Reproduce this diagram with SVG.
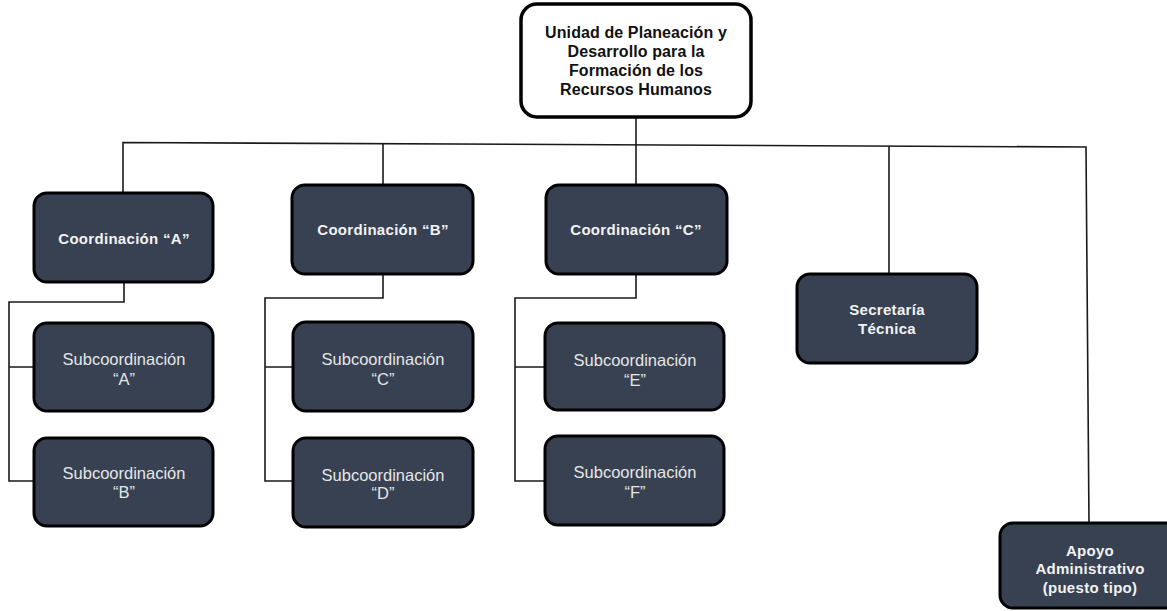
<svg xmlns="http://www.w3.org/2000/svg" width="1167" height="611" viewBox="0 0 1167 611">
<style>
.box{fill:#374151;stroke:#000;stroke-width:3}
.top{fill:#fff;stroke:#000;stroke-width:3.5}
.ln{fill:none;stroke:#1a1a1a;stroke-width:1.6}
.tb{font-family:"Liberation Sans",Arial,sans-serif;font-weight:bold;font-size:15px;fill:#f2f2f2;text-anchor:middle;letter-spacing:0.3px}
.tn{font-family:"Liberation Sans",Arial,sans-serif;font-size:16.5px;fill:#e6e6e6;text-anchor:middle}
.tt{font-family:"Liberation Sans",Arial,sans-serif;font-weight:bold;font-size:16px;fill:#111;text-anchor:middle;letter-spacing:0.1px}
</style>
<g id="connectors">
<path class="ln" d="M123,193 V142.5 L1086,147 L1089,523"/>
<path class="ln" d="M383,185 V143.6"/>
<path class="ln" d="M636,117 V185"/>
<path class="ln" d="M889,274 V146"/>
<path class="ln" d="M124,282 V302 H9 V481 H34 M9,367 H34"/>
<path class="ln" d="M383,274 V298 H265 V481 H293 M265,367 H293"/>
<path class="ln" d="M636,274 V298 H515 V481 H545 M515,367 H545"/>
</g>
<g id="unidad">
<rect class="top" x="521" y="4" width="230" height="113" rx="16"/>
<text class="tt" x="636" y="38">Unidad de Planeación y</text>
<text class="tt" x="636" y="57">Desarrollo para la</text>
<text class="tt" x="636" y="76">Formación de los</text>
<text class="tt" x="636" y="95">Recursos Humanos</text>
</g>
<g id="coordA">
<rect class="box" x="34" y="193" width="179" height="89" rx="13"/>
<text class="tb" x="124" y="244">Coordinación “A”</text>
</g>
<g id="coordB">
<rect class="box" x="292" y="185" width="181" height="89" rx="13"/>
<text class="tb" x="383" y="235">Coordinación “B”</text>
</g>
<g id="coordC">
<rect class="box" x="546" y="185" width="181" height="89" rx="13"/>
<text class="tb" x="636" y="235">Coordinación “C”</text>
</g>
<g id="secretaria">
<rect class="box" x="797" y="274" width="180" height="89" rx="13"/>
<text class="tb" x="887" y="315">Secretaría</text>
<text class="tb" x="887" y="334">Técnica</text>
</g>
<g id="apoyo">
<rect class="box" x="1000" y="523" width="182" height="85" rx="13"/>
<text class="tb" x="1090" y="556">Apoyo</text>
<text class="tb" x="1090" y="574">Administrativo</text>
<text class="tb" x="1090" y="593">(puesto tipo)</text>
</g>
<g id="subA">
<rect class="box" x="34" y="323" width="179" height="88" rx="13"/>
<text class="tn" x="124" y="365">Subcoordinación</text>
<text class="tn" x="124" y="385">“A”</text>
</g>
<g id="subB">
<rect class="box" x="34" y="438" width="179" height="88" rx="13"/>
<text class="tn" x="124" y="479">Subcoordinación</text>
<text class="tn" x="124" y="498">“B”</text>
</g>
<g id="subC">
<rect class="box" x="293" y="322" width="180" height="89" rx="13"/>
<text class="tn" x="383" y="365">Subcoordinación</text>
<text class="tn" x="383" y="385">“C”</text>
</g>
<g id="subD">
<rect class="box" x="293" y="438" width="180" height="89" rx="13"/>
<text class="tn" x="383" y="481">Subcoordinación</text>
<text class="tn" x="383" y="499">“D”</text>
</g>
<g id="subE">
<rect class="box" x="545" y="323" width="179" height="87" rx="13"/>
<text class="tn" x="635" y="366">Subcoordinación</text>
<text class="tn" x="635" y="386">“E”</text>
</g>
<g id="subF">
<rect class="box" x="545" y="436" width="179" height="89" rx="13"/>
<text class="tn" x="635" y="478">Subcoordinación</text>
<text class="tn" x="635" y="498">“F”</text>
</g>
</svg>
